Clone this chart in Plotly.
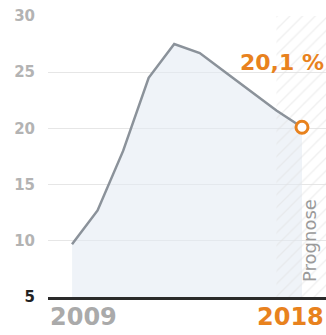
import plotly.graph_objects as go

# Unemployment-style rate series, 2009-2018 (2018 is a forecast)
years = [2009, 2010, 2011, 2012, 2013, 2014, 2015, 2016, 2017, 2018]
rate = [9.7, 12.7, 18.0, 24.5, 27.5, 26.7, 25.0, 23.3, 21.6, 20.1]

y_ticks = [5, 10, 15, 20, 25, 30]
y_tick_text = ['<span style="color:#222222">5</span>', "10", "15", "20", "25", "30"]

forecast_start = 2017
x_min, x_max = 2008.06, 2018.94
y_min, y_max = 5, 30

ORANGE = "#E8821E"
GREY_TXT = "#b3b3b3"
BOLD = "DejaVu Sans"

fig = go.Figure()

# Shaded area under the curve
fig.add_trace(go.Scatter(
    x=years, y=rate, mode="lines", line=dict(width=0),
    fill="tozeroy", fillcolor="rgba(226,233,242,0.55)",
    hoverinfo="skip", showlegend=False,
))

# Hatched forecast band
fig.add_trace(go.Scatter(
    x=[forecast_start, x_max, x_max, forecast_start, forecast_start],
    y=[y_min, y_min, y_max, y_max, y_min],
    mode="lines", line=dict(width=0), fill="toself",
    fillcolor="rgba(0,0,0,0)",
    fillpattern=dict(shape="/", fgcolor="#e0e0e0", bgcolor="rgba(0,0,0,0)",
                     size=9, solidity=0.15),
    hoverinfo="skip", showlegend=False,
))

# Main line
fig.add_trace(go.Scatter(
    x=years, y=rate, mode="lines",
    line=dict(color="#8b929a", width=2.5),
    hoverinfo="skip", showlegend=False,
))

# Latest value marker
fig.add_trace(go.Scatter(
    x=[years[-1]], y=[rate[-1]], mode="markers",
    marker=dict(size=12, color="white", line=dict(color=ORANGE, width=3)),
    hoverinfo="skip", showlegend=False,
))

fig.add_annotation(
    x=1, xref="paper", y=24.6, yref="y", xanchor="right", yanchor="bottom",
    text=f"{rate[-1]:.1f}".replace(".", ",") + " %", showarrow=False,
    font=dict(family=BOLD, size=22, color=ORANGE, weight="bold"),
)
fig.add_annotation(
    x=0.988, xref="paper", y=10.0, yref="y", textangle=-90,
    text="Prognose", showarrow=False,
    font=dict(family="DejaVu Sans", size=18, color="#9a9a9a"),
)
fig.add_annotation(
    x=0, xref="paper", y=-0.015, yref="paper", xanchor="left", yanchor="top",
    text=str(years[0]), showarrow=False,
    font=dict(family=BOLD, size=24, color="#aaaaaa", weight="bold"),
)
fig.add_annotation(
    x=1, xref="paper", y=-0.015, yref="paper", xanchor="right", yanchor="top",
    text=str(years[-1]), showarrow=False,
    font=dict(family=BOLD, size=24, color=ORANGE, weight="bold"),
)

fig.update_layout(
    width=326, height=335,
    margin=dict(l=48, r=0, t=16, b=38),
    paper_bgcolor="white", plot_bgcolor="white",
    xaxis=dict(range=[x_min, x_max], showgrid=False, showticklabels=False,
               zeroline=False, showline=True, linecolor="#2a2a2a", linewidth=2.5,
               fixedrange=True),
    yaxis=dict(range=[y_min, y_max], tickvals=y_ticks, ticktext=y_tick_text,
               showgrid=True, gridcolor="#e6e6e6", gridwidth=1, zeroline=False,
               ticks="outside", ticklen=9, tickcolor="rgba(0,0,0,0)",
               tickfont=dict(family=BOLD, size=15, color=GREY_TXT, weight="bold"),
               fixedrange=True),
)

fig.write_html("out.html")
